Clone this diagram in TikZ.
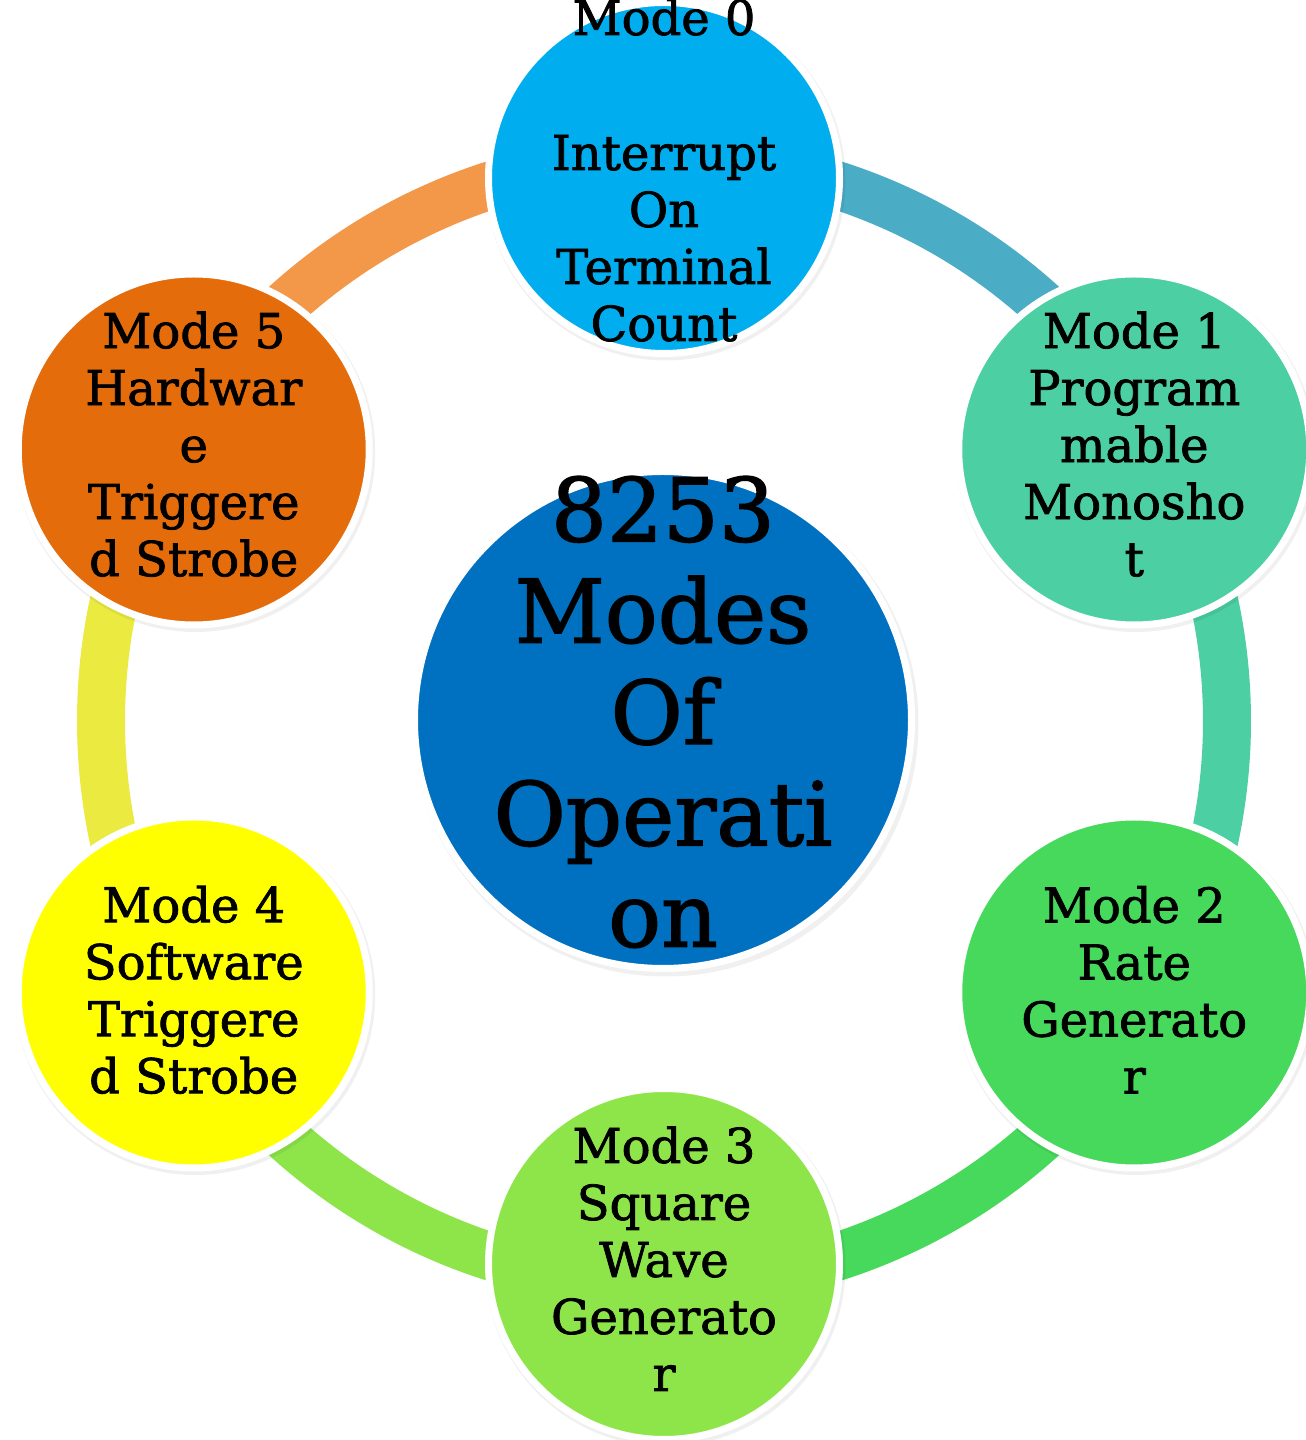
\documentclass[tikz,border=0pt]{standalone}
\usepackage{fontspec}
\setmainfont{DejaVu Serif}
\newfontfamily\labelfont{DejaVu Serif}[FakeBold=1.6]
\usetikzlibrary{calc}

% fills of the six mode discs and the hub
\definecolor{mzero}{HTML}{00AEEF}
\definecolor{mone}{HTML}{4BCFA3}
\definecolor{mtwo}{HTML}{46D95B}
\definecolor{mthree}{HTML}{8EE54A}
\definecolor{mfour}{HTML}{FFFF00}
\definecolor{mfive}{HTML}{E46C0A}
\definecolor{hub}{HTML}{0070C0}
% ring segments between the discs
\definecolor{rzo}{HTML}{4BACC6}
\definecolor{rot}{HTML}{4BCFA3}
\definecolor{rtt}{HTML}{46D95B}
\definecolor{rtf}{HTML}{8EE54A}
\definecolor{rff}{HTML}{EAEA40}
\definecolor{rfz}{HTML}{F39848}

\tikzset{
  ringseg/.style={line width=36pt},
  modedisc/.style={circle, draw=white, line width=5.25pt, minimum size=263.25pt, inner sep=0pt},
  hubdisc/.style={circle, draw=white, line width=5.25pt, minimum size=372.75pt, inner sep=0pt, fill=hub},
  modetext/.style={align=center, inner sep=0pt, text=black, font=\labelfont\fontsize{36pt}{42.75pt}\selectfont},
  hubtext/.style={align=center, inner sep=0pt, text=black, font=\labelfont\fontsize{66pt}{76pt}\selectfont},
  discshadow/.style={fill=black, opacity=0.06}
}

\begin{document}
\begin{tikzpicture}[x=0.75pt, y=0.75pt]
  \useasboundingbox (0,0) rectangle (1306,1440);
  \fill[white] (0,0) rectangle (1306,1440);

  \coordinate (O) at (664,719);

  % points where the ring passes under each disc
  \foreach \a/\n in {90/0, 30/1, -30/2, -90/3, 210/4, 150/5}
    \coordinate (r\n) at ([shift={(O)}]\a:563);

  % coloured ring
  \draw[ringseg, rzo] (r0) arc[start angle=90,  end angle=30,  radius=563];
  \draw[ringseg, rot] (r1) arc[start angle=30,  end angle=-30, radius=563];
  \draw[ringseg, rtt] (r2) arc[start angle=-30, end angle=-90, radius=563];
  \draw[ringseg, rtf] (r3) arc[start angle=-90, end angle=-150, radius=563];
  \draw[ringseg, rff] (r4) arc[start angle=210, end angle=150, radius=563];
  \draw[ringseg, rfz] (r5) arc[start angle=150, end angle=90,  radius=563];

  % soft shadows under the discs
  \foreach \a in {90, 30, -30, -90, 210, 150}
    \fill[discshadow] ([shift={(O)}]\a:543) ++(1.5,-2.5) circle[radius=180];
  \fill[discshadow] (O) ++(1.5,-2.5) circle[radius=253];

  % mode discs
  \node[modedisc, fill=mzero]  (m0) at ([shift={(O)}]90:543)  {};
  \node[modedisc, fill=mone]   (m1) at ([shift={(O)}]30:543)  {};
  \node[modedisc, fill=mtwo]   (m2) at ([shift={(O)}]-30:543) {};
  \node[modedisc, fill=mthree] (m3) at ([shift={(O)}]-90:543) {};
  \node[modedisc, fill=mfour]  (m4) at ([shift={(O)}]210:543) {};
  \node[modedisc, fill=mfive]  (m5) at ([shift={(O)}]150:543) {};

  % hub
  \node[hubdisc] (hub) at ([shift={(-1,1)}]O) {};

  % labels
  \node[modetext] (t0) at ([yshift=6]m0) {Mode 0\\[58.5pt]Interrupt\\On\\Terminal\\Count};
  \node[modetext] (t1) at ([yshift=4]m1) {Mode 1\\Program\\mable\\Monosho\\t};
  \node[modetext] (t2) at ([yshift=2]m2) {Mode 2\\Rate\\Generato\\r};
  \node[modetext] (t3) at ([yshift=4]m3) {Mode 3\\Square\\Wave\\Generato\\r};
  \node[modetext] (t4) at ([yshift=2]m4) {Mode 4\\Software\\Triggere\\d Strobe};
  \node[modetext] (t5) at ([yshift=4]m5) {Mode 5\\Hardwar\\e\\Triggere\\d Strobe};
  \node[hubtext] (th) at ([yshift=6]hub) {8253\\Modes\\Of\\Operati\\on};
\end{tikzpicture}
\end{document}
